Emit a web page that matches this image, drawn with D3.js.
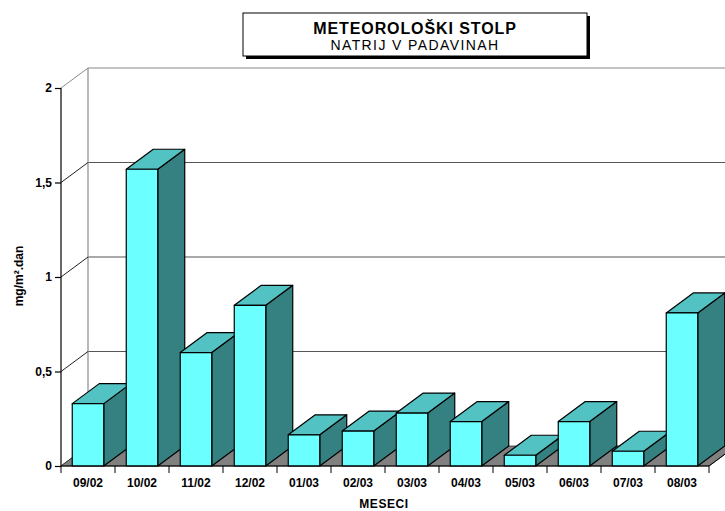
<!DOCTYPE html>
<html>
<head>
<meta charset="utf-8">
<script src="https://cdn.jsdelivr.net/npm/d3@7"></script>
<style>
  body { margin: 0; background: #fff; }
  svg { font-family: "Liberation Sans", Arial, sans-serif; }
</style>
</head>
<body>
<div class="chart"></div>
<script>
// data
const months = ['09/02', '10/02', '11/02', '12/02', '01/03', '02/03',
  '03/03', '04/03', '05/03', '06/03', '07/03', '08/03'];
const natrij = [0.33, 1.57, 0.60, 0.85, 0.165, 0.185, 0.28, 0.235, 0.057, 0.235, 0.078, 0.81];
const yTicks = [0, 0.5, 1, 1.5, 2];

const width = 725, height = 511;
const plotLeft = 61, plotRight = 709, plotBottom = 466, plotTop = 88;
// 3d depth offset
const dx = 27, dy = -20;

const svg = d3.select('.chart').append('svg')
  .attr('width', width)
  .attr('height', height);

// scales
const x = d3.scaleBand().domain(months).range([plotLeft, plotRight])
  .paddingInner(0.417).paddingOuter(0.2085);
const y = d3.scaleLinear().domain([0, 2]).range([plotBottom, plotTop]);
const step = x.step();

// back wall grid
const grid = svg.append('g');
grid.selectAll('line.h')
  .data(yTicks.slice(1))
  .enter().append('line')
  .attr('x1', plotLeft + dx).attr('x2', width + 20)
  .attr('y1', d => y(d) + dy).attr('y2', d => y(d) + dy)
  .attr('stroke', d => (d === 2 ? '#8a8a8a' : '#555'))
  .attr('stroke-width', 1.2);
grid.append('line')
  .attr('x1', plotLeft + dx).attr('x2', plotLeft + dx)
  .attr('y1', y(0) + dy).attr('y2', y(2) + dy)
  .attr('stroke', '#8a8a8a').attr('stroke-width', 1.2);
// side wall diagonals
grid.selectAll('line.d')
  .data(yTicks)
  .enter().append('line')
  .attr('x1', plotLeft).attr('x2', plotLeft + dx)
  .attr('y1', d => y(d)).attr('y2', d => y(d) + dy)
  .attr('stroke', d => (d === 2 ? '#8a8a8a' : '#222'))
  .attr('stroke-width', 1);

// floor
svg.append('path')
  .attr('d', `M${plotLeft},${y(0)}L${plotRight},${y(0)}L${plotRight + dx},${y(0) + dy}L${plotLeft + dx},${y(0) + dy}Z`)
  .attr('fill', '#808080')
  .attr('stroke', '#333')
  .attr('stroke-width', 0.8);

// bars
const bars = svg.append('g')
  .selectAll('g')
  .data(months.map((m, i) => ({ m, v: natrij[i] })))
  .enter().append('g')
  .attr('stroke', '#000')
  .attr('stroke-width', 1.2)
  .attr('stroke-linejoin', 'round');

const bw = x.bandwidth();
bars.append('path') // side
  .attr('d', d => {
    const x1 = x(d.m) + bw, y0 = y(0), y1 = y(d.v);
    return `M${x1},${y0}L${x1 + dx},${y0 + dy}L${x1 + dx},${y1 + dy}L${x1},${y1}Z`;
  })
  .attr('fill', '#358080');
bars.append('path') // top
  .attr('d', d => {
    const x0 = x(d.m), y1 = y(d.v);
    return `M${x0},${y1}L${x0 + dx},${y1 + dy}L${x0 + bw + dx},${y1 + dy}L${x0 + bw},${y1}Z`;
  })
  .attr('fill', '#52c2c2');
bars.append('rect') // front
  .attr('x', d => x(d.m))
  .attr('y', d => y(d.v))
  .attr('width', bw)
  .attr('height', d => y(0) - y(d.v))
  .attr('fill', '#6cffff');

// x axis
svg.append('line')
  .attr('x1', plotLeft).attr('x2', plotRight)
  .attr('y1', y(0)).attr('y2', y(0))
  .attr('stroke', '#000').attr('stroke-width', 1.2);
svg.append('line')
  .attr('x1', plotRight).attr('x2', plotRight + dx)
  .attr('y1', y(0)).attr('y2', y(0) + dy)
  .attr('stroke', '#000').attr('stroke-width', 1);
svg.append('g')
  .selectAll('line')
  .data(d3.range(months.length + 1))
  .enter().append('line')
  .attr('x1', i => plotLeft + i * step).attr('x2', i => plotLeft + i * step)
  .attr('y1', y(0)).attr('y2', y(0) + 7)
  .attr('stroke', '#000');

const xAxis = svg.append('g')
  .attr('transform', `translate(0,${y(0)})`)
  .call(d3.axisBottom(x).tickSize(0).tickPadding(12));
xAxis.select('.domain').remove();
xAxis.selectAll('text')
  .attr('font-family', '"Liberation Sans", Arial, sans-serif')
  .attr('font-size', 12)
  .attr('font-weight', 'bold')
  .attr('fill', '#000');

// y axis
const yAxis = svg.append('g')
  .attr('transform', `translate(${plotLeft},0)`)
  .call(d3.axisLeft(y).tickValues(yTicks).tickSize(6).tickPadding(3)
    .tickFormat(d => String(d).replace('.', ',')));
yAxis.select('.domain').attr('stroke-width', 1.2).attr('d', `M0,${y(0)}V${y(2)}`);
yAxis.selectAll('.tick line').attr('stroke-width', 1.2);
yAxis.selectAll('text')
  .attr('font-family', '"Liberation Sans", Arial, sans-serif')
  .attr('font-size', 12)
  .attr('font-weight', 'bold')
  .attr('fill', '#000');

// axis titles
svg.append('text')
  .attr('x', 384).attr('y', 508)
  .attr('text-anchor', 'middle')
  .attr('font-size', 12).attr('font-weight', 'bold')
  .attr('letter-spacing', 0.6)
  .text('MESECI');
svg.append('text')
  .attr('transform', 'translate(23,276) rotate(-90)')
  .attr('text-anchor', 'middle')
  .attr('font-size', 12).attr('font-weight', 'bold')
  .text('mg/m².dan');

// title box
const box = { x0: 243, x1: 587, y0: 13, y1: 56 };
svg.append('rect')
  .attr('x', box.x0 + 3).attr('y', box.y0 + 3)
  .attr('width', box.x1 - box.x0).attr('height', box.y1 - box.y0)
  .attr('fill', '#000');
svg.append('rect')
  .attr('x', box.x0).attr('y', box.y0)
  .attr('width', box.x1 - box.x0).attr('height', box.y1 - box.y0)
  .attr('fill', '#fff').attr('stroke', '#000');
svg.append('text')
  .attr('x', 415).attr('y', 34)
  .attr('text-anchor', 'middle')
  .attr('font-size', 16).attr('font-weight', 'bold')
  .attr('letter-spacing', 0.9)
  .text('METEOROLOŠKI  STOLP');
svg.append('text')
  .attr('x', 415).attr('y', 50)
  .attr('text-anchor', 'middle')
  .attr('font-size', 14)
  .attr('letter-spacing', 1.4)
  .text('NATRIJ V  PADAVINAH');
</script>
</body>
</html>
